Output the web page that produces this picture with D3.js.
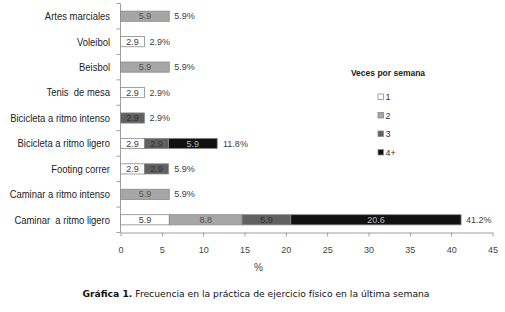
<!DOCTYPE html>
<html>
<head>
<meta charset="utf-8">
<script src="https://d3js.org/d3.v7.min.js"></script>
<style>
  body { margin: 0; background: #fff; }
  svg { display: block; }
</style>
</head>
<body>
<script>
    var width = 505, height = 312;

    // data
    var categories = ["Artes marciales", "Voleibol", "Beisbol", "Tenis  de mesa", "Bicicleta a ritmo intenso",
        "Bicicleta a ritmo ligero", "Footing correr", "Caminar a ritmo intenso", "Caminar  a ritmo ligero"];
    var seriesNames = ["1", "2", "3", "4+"];
    var vez1 = [0, 2.9, 0, 2.9, 0, 2.9, 2.9, 0, 5.9];
    var vez2 = [5.9, 0, 5.9, 0, 0, 0, 0, 5.9, 8.8];
    var vez3 = [0, 0, 0, 0, 2.9, 2.9, 2.9, 0, 5.9];
    var vez4 = [0, 0, 0, 0, 0, 5.9, 0, 0, 20.6];
    var totals = [5.9, 2.9, 5.9, 2.9, 2.9, 11.8, 5.9, 5.9, 41.2];
    var xTicks = [0, 5, 10, 15, 20, 25, 30, 35, 40, 45];

    var fills = ["#ffffff", "#a6a6a6", "#606060", "#111111"];
    var labelColors = ["#404040", "#555555", "#333333", "#bbbbbb"];

    var svg = d3.select('body').append('svg').attr('width', width).attr('height', height);

    var x = d3.scaleLinear().domain([0, 45]).range([120.5, 492.5]);
    var y = d3.scaleBand().domain(categories).range([3.5, 232.5]).paddingInner(0.6).paddingOuter(0.3);
    var step = y.step();

    // build stacked table
    var table = categories.map(function (c, i) {
        return { cat: c, s0: vez1[i], s1: vez2[i], s2: vez3[i], s3: vez4[i] };
    });
    var stack = d3.stack().keys(["s0", "s1", "s2", "s3"])(table);

    var labelFont = "'Liberation Sans', Arial, sans-serif";

    // axes
    var yAxisG = svg.append('g');
    yAxisG.append('line').attr('x1', x(0)).attr('x2', x(0)).attr('y1', 3.5).attr('y2', 232.5)
        .attr('stroke', '#a0a0a0');
    yAxisG.selectAll('.yt').data(d3.range(categories.length + 1)).join('line')
        .attr('x1', x(0) - 4).attr('x2', x(0))
        .attr('y1', function (d) { return 3.5 + d * step; })
        .attr('y2', function (d) { return 3.5 + d * step; })
        .attr('stroke', '#a0a0a0');

    var xAxis = d3.axisBottom(x).tickValues(xTicks).tickSize(4).tickSizeOuter(0);
    var xg = svg.append('g').attr('transform', 'translate(0,232.5)').call(xAxis);
    xg.select('.domain').attr('stroke', '#a0a0a0');
    xg.selectAll('.tick line').attr('stroke', '#a0a0a0');
    xg.selectAll('.tick text').attr('y', 14).attr('fill', '#444')
        .style('font-family', labelFont).style('font-size', '9px');

    svg.append('text').attr('x', x(16.7)).attr('y', 271).attr('text-anchor', 'middle')
        .attr('fill', '#444').style('font-family', labelFont).style('font-size', '10px').text('%');

    // category labels (condensed like the original's narrow face)
    svg.selectAll('.cat').data(categories).join('text')
        .attr('transform', function (d) {
            return 'translate(110,' + (y(d) + y.bandwidth() / 2) + ') scale(0.86,1)';
        })
        .attr('dy', '0.35em').attr('text-anchor', 'end').attr('fill', '#222')
        .style('font-family', labelFont).style('font-size', '11px')
        .style('white-space', 'pre').text(function (d) { return d; });

    // bars
    var layers = svg.selectAll('.layer').data(stack).join('g');
    layers.selectAll('rect').data(function (d, k) {
        return d.map(function (p) { return { p: p, k: k }; }).filter(function (o) { return o.p[1] - o.p[0] > 0; });
    }).join('rect')
        .attr('x', function (o) { return x(o.p[0]); })
        .attr('width', function (o) { return x(o.p[1]) - x(o.p[0]); })
        .attr('y', function (o) { return y(o.p.data.cat); })
        .attr('height', y.bandwidth())
        .attr('fill', function (o) { return fills[o.k]; })
        .attr('stroke', '#8a8a8a').attr('stroke-width', 0.8);

    layers.selectAll('text').data(function (d, k) {
        return d.map(function (p) { return { p: p, k: k }; }).filter(function (o) { return o.p[1] - o.p[0] > 0; });
    }).join('text')
        .attr('x', function (o) { return (x(o.p[0]) + x(o.p[1])) / 2; })
        .attr('y', function (o) { return y(o.p.data.cat) + y.bandwidth() / 2; })
        .attr('dy', '0.35em').attr('text-anchor', 'middle')
        .attr('fill', function (o) { return labelColors[o.k]; })
        .style('font-family', labelFont).style('font-size', '9px')
        .text(function (o) { return d3.format('.1f')(o.p[1] - o.p[0]); });

    // totals
    svg.selectAll('.tot').data(totals).join('text')
        .attr('x', function (d) { return x(d) + 5; })
        .attr('y', function (d, i) { return y(categories[i]) + y.bandwidth() / 2; })
        .attr('dy', '0.35em').attr('fill', '#404040')
        .style('font-family', labelFont).style('font-size', '9px')
        .text(function (d) { return d3.format('.1f')(d) + '%'; });

    // legend
    svg.append('text').attr('x', 388).attr('y', 76).attr('text-anchor', 'middle')
        .attr('fill', '#222').style('font-family', labelFont).style('font-size', '8.5px')
        .style('font-weight', 'bold').text('Veces por semana');
    var leg = svg.selectAll('.leg').data(seriesNames).join('g')
        .attr('transform', function (d, i) { return 'translate(378,' + (94 + i * 18.5) + ')'; });
    leg.append('rect').attr('width', 5.5).attr('height', 5.5)
        .attr('fill', function (d, i) { return fills[i]; })
        .attr('stroke', '#8a8a8a').attr('stroke-width', 0.8);
    leg.append('text').attr('x', 7.5).attr('y', 2.9).attr('dy', '0.35em').attr('fill', '#333')
        .style('font-family', labelFont).style('font-size', '9px').text(function (d) { return d; });

    // caption
    var cap = svg.append('text').attr('x', 256).attr('y', 297).attr('text-anchor', 'middle')
        .attr('fill', '#111').style('font-family', "'DejaVu Sans', Verdana, sans-serif").style('font-size', '9.2px');
    cap.append('tspan').style('font-weight', 'bold').text('Gráfica 1.');
    cap.append('tspan').text(' Frecuencia en la práctica de ejercicio físico en la última semana');
</script>
</body>
</html>
